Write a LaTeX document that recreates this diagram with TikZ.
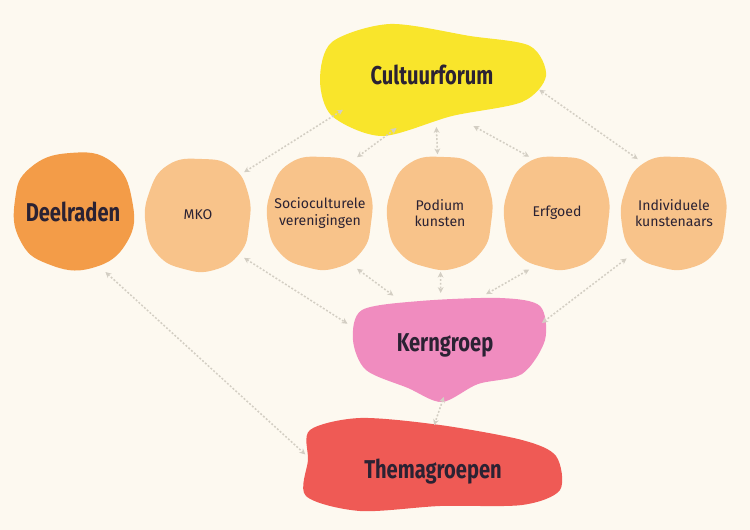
\documentclass[tikz,border=0pt]{standalone}
\usepackage{fontspec}
\setmainfont{Fira Sans}
\newfontfamily\headfont[FakeStretch=0.78]{Fira Sans}
\usetikzlibrary{shapes.geometric,arrows.meta}

\definecolor{paper}{HTML}{FDF9F0}
\definecolor{forumfill}{HTML}{F9E52B}
\definecolor{deelfill}{HTML}{F39C48}
\definecolor{smallfill}{HTML}{F8C38A}
\definecolor{kernfill}{HTML}{F08CBF}
\definecolor{themafill}{HTML}{EF5A55}
\definecolor{ink}{HTML}{2B2233}
\definecolor{linkgray}{HTML}{D3CEC3}

\tikzset{
  hub/.style={ellipse,inner sep=0pt,text=ink,font=\headfont\bfseries\fontsize{22}{24}\selectfont},
  member/.style={ellipse,inner sep=0pt,minimum width=3cm,minimum height=3.3cm,text=ink,align=center,font=\fontsize{12}{14}\selectfont},
  link/.style={draw=linkgray,line width=1.3pt,dash pattern=on 1.6pt off 1.6pt,
               {Stealth[length=5pt,width=5pt]}-{Stealth[length=5pt,width=5pt]},shorten <=9pt,shorten >=9pt},
  shortlink/.style={link,shorten <=3pt,shorten >=3pt}
}
\newcommand\memberblob[2]{\fill[smallfill,shift={(#1,#2)}] plot[smooth cycle,tension=0.8] coordinates
  {(-30,-50) (4,-56) (34,-48) (50,-22) (51,10) (42,38) (16,55) (-14,54) (-40,40) (-52,12) (-49,-22)};}

\begin{document}
\begin{tikzpicture}[x=0.03cm,y=-0.03cm]
  \fill[paper] (0,0) rectangle (750,530);
  \useasboundingbox (0,0) rectangle (750,530);

  % blobs
  \fill[forumfill] plot[smooth cycle] coordinates {(332,42) (390,24) (470,36) (530,46) (546,76) (522,102) (452,116) (382,136) (332,116) (320,80)};
  \fill[deelfill] plot[smooth cycle,tension=0.8] coordinates {(30,168) (70,153) (112,162) (132,200) (127,242) (92,268) (48,264) (20,240) (15,200)};
  \memberblob{198}{215}
  \memberblob{320}{213}
  \memberblob{440}{213}
  \memberblob{557}{213}
  \memberblob{674}{213}
  \fill[kernfill] plot[smooth cycle] coordinates {(362,310) (420,301) (500,298) (540,306) (545,340) (522,374) (478,384) (442,402) (408,388) (366,370) (353,340)};
  \fill[themafill] plot[smooth cycle] coordinates {(310,430) (360,418) (440,425) (522,440) (556,456) (560,490) (522,505) (440,506) (360,511) (306,496) (308,460)};

  % labels
  \node[hub,minimum width=6cm,minimum height=2.9cm] (forum) at (432,75) {Cultuurforum};
  \node[hub,minimum width=3.5cm,minimum height=3.4cm] (deel) at (73,212) {Deelraden};
  \node[member] (mko) at (198,215) {MKO};
  \node[member] (socio) at (320,213) {Socioculturele\\verenigingen};
  \node[member] (podium) at (440,213) {Podium\\kunsten};
  \node[member] (erfgoed) at (557,213) {Erfgoed};
  \node[member] (indiv) at (674,213) {Individuele\\kunstenaars};
  \node[hub,minimum width=5.6cm,minimum height=2.9cm] (kern) at (445,345) {Kerngroep};
  \node[hub,minimum width=7.4cm,minimum height=2.6cm] (thema) at (433,472) {Themagroepen};

  % connectors
  \draw[link] (forum.200) -- (mko.45);
  \draw[link] (forum.-120) -- (socio.60);
  \draw[shortlink] (forum.-85) -- (podium);
  \draw[link] (forum.-55) -- (erfgoed.110);
  \draw[link] (forum.-5) -- (indiv.120);
  \draw[link] (mko.-45) -- (kern.170);
  \draw[link] (socio.-60) -- (kern.135);
  \draw[shortlink] (podium) -- (kern.95);
  \draw[link] (erfgoed.-110) -- (kern.55);
  \draw[link] (indiv.-135) -- (kern.10);
  \draw[shortlink] (kern.-90) -- (thema.90);
  \draw[link] (deel.-65) -- (thema.175);
\end{tikzpicture}
\end{document}
